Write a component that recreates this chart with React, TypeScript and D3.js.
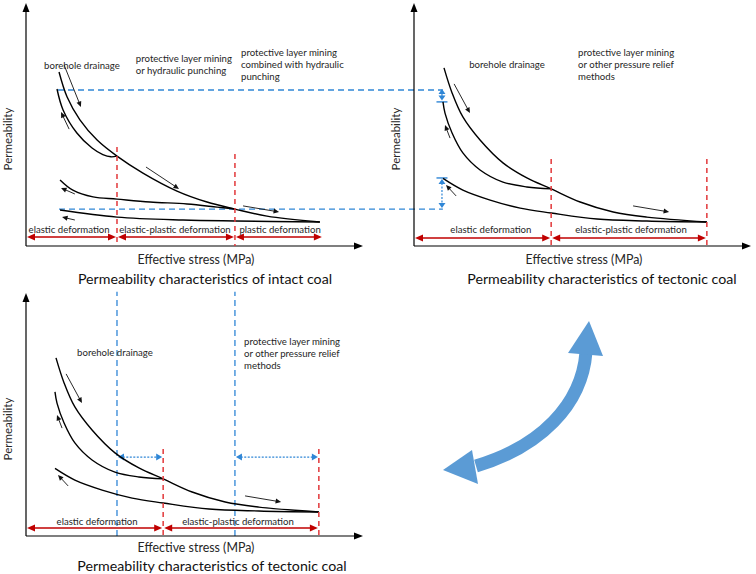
import React from "react";
import * as d3 from "d3";

type P = [number, number];

// ---------- data (normalized stress 0-100, permeability 0-100) ----------
// Intact coal
const intactLoading: P[] = [[9.8, 71.6], [12.2, 61.3], [16.0, 51.9], [21.1, 43.6], [27.0, 37.0], [34.7, 30.0], [44.8, 22.6], [53.7, 18.1], [62.0, 15.2], [71.5, 12.3], [87.2, 9.9]];
const intactUnloading: P[] = [[9.2, 64.6], [11.0, 56.0], [15.1, 46.5], [19.6, 40.3], [22.8, 37.6], [25.2, 36.7], [27.0, 37.0]];
const intactReloading: P[] = [[10.1, 27.2], [13.9, 23.0], [19.9, 20.2], [27.0, 19.3], [36.8, 18.1], [47.8, 17.3], [56.7, 16.0], [62.0, 15.2]];
const intactResidual: P[] = [[10.1, 14.8], [27.0, 11.9], [46.6, 10.7], [62.0, 10.3], [87.2, 9.9]];
const intactBoundaries = [27.0, 62.0];
const intactBoundaryTops = [40.7, 37.9];
const intactZoneEdges = [0, 27.0, 62.0, 88.1];
const intactZoneLabels = ["elastic deformation", "elastic-plastic deformation", "plastic deformation"];
const intactZoneLabelX = [12.8, 44.2, 75.4];
const intactBlueLevels = [64.2, 15.2];
const intactBlueStart = [9.5, 9.8];
const blueLevelEnd = 123.7;
const intactDirArrows: [P, P][] = [[[11.3, 74.5], [16.3, 57.2]], [[12.8, 48.1], [10.4, 55.1]], [[35.6, 32.5], [45.4, 23.5]], [[14.5, 21.4], [10.4, 23.9]], [[64.4, 16.5], [75.1, 14.0]], [[14.5, 10.7], [10.7, 11.9]]];

// Tectonic coal
const tectLoading: P[] = [[8.9, 73.3], [11.3, 63.0], [14.5, 53.1], [19.6, 43.6], [26.4, 34.2], [33.5, 28.0], [40.7, 23.5], [49.3, 18.1], [59.1, 14.0], [69.1, 11.9], [86.9, 9.9]];
const tectUnloading: P[] = [[8.6, 59.3], [9.2, 54.7], [11.3, 46.5], [14.5, 38.3], [19.6, 31.3], [26.4, 26.3], [33.5, 24.3], [40.7, 23.5]];
const tectResidual: P[] = [[8.6, 27.8], [14.5, 23.0], [22.6, 18.9], [31.5, 15.6], [40.7, 13.6], [54.3, 11.1], [69.1, 10.3], [86.9, 9.9]];
const tectBoundaries = [40.7, 86.9];
const tectBoundaryTops = [35.8, 35.8];
const tectZoneEdges = [0, 40.7, 86.9];
const tectZoneLabels = ["elastic deformation", "elastic-plastic deformation"];
const tectZoneLabelX = [22.8, 64.4];
const tectDirArrows: [P, P][] = [[[11.9, 66.7], [16.6, 54.7]], [[10.7, 44.4], [9.2, 49.8]], [[12.5, 20.6], [9.5, 25.1]], [[65.0, 16.5], [75.7, 14.0]]];
const gainMarkerX = 8.3;
const gainMarkers = [{ bar: 59.3, from: 59.9, to: 64.6 }, { bar: 28.0, from: 27.6, to: 15.6 }];
const reliefLines = [27.0, 62.0];
const reliefRanges: P[] = [[27.0, 40.7], [62.0, 86.9]];
const reliefLevel = 32.5;

// Text
const titleIntact = "Permeability characteristics of intact coal";
const titleTectonic = "Permeability characteristics of tectonic coal";
const xTitle = "Effective stress (MPa)";
const yTitle = "Permeability";

// ---------- helpers ----------
const FONT = "Lato, 'Open Sans', sans-serif";
const RED_DASH = "#E2383A";
const RED = "#C00000";
const BLUE = "#2F86D6";
const TXT = "#262626";

function headPts(tip: P, from: P, len: number, half: number): string {
  const dx = tip[0] - from[0];
  const dy = tip[1] - from[1];
  const d = Math.hypot(dx, dy) || 1;
  const ux = dx / d, uy = dy / d;
  const bx = tip[0] - ux * len, by = tip[1] - uy * len;
  return `${tip[0]},${tip[1]} ${bx - uy * half},${by + ux * half} ${bx + uy * half},${by - ux * half}`;
}

function ArrowLine({ a, b, color, width = 1, len = 6, half = 3, both = false, dash }: { a: P; b: P; color: string; width?: number; len?: number; half?: number; both?: boolean; dash?: string }) {
  const dx = b[0] - a[0], dy = b[1] - a[1];
  const d = Math.hypot(dx, dy) || 1;
  const ux = dx / d, uy = dy / d;
  const a2: P = both ? [a[0] + ux * len * 0.8, a[1] + uy * len * 0.8] : a;
  const b2: P = [b[0] - ux * len * 0.8, b[1] - uy * len * 0.8];
  return (
    <g>
      <line x1={a2[0]} y1={a2[1]} x2={b2[0]} y2={b2[1]} stroke={color} strokeWidth={width} strokeDasharray={dash} />
      <polygon points={headPts(b, a, len, half)} fill={color} />
      {both && <polygon points={headPts(a, b, len, half)} fill={color} />}
    </g>
  );
}

type PanelProps = {
  ox: number; oy: number;
  curves: P[][];
  boundaries: number[]; boundaryTops: number[];
  zoneEdges: number[]; zoneLabels: string[]; zoneLabelX: number[];
  zoneArrowY: number; zoneLabelY: number;
  dirArrows: [P, P][];
  title: string; titleDx: number; titleDy: number; xTitleDy: number;
  notes: { lines: string[]; x: number; y: number; anchor: "start" | "middle" }[];
  children?: (x: d3.ScaleLinear<number, number>, y: d3.ScaleLinear<number, number>) => React.ReactNode;
};

function Panel(p: PanelProps) {
  const x = d3.scaleLinear().domain([0, 100]).range([p.ox, p.ox + 337]);
  const y = d3.scaleLinear().domain([0, 100]).range([p.oy, p.oy - 243]);
  const line = d3.line<P>().x(d => x(d[0])).y(d => y(d[1])).curve(d3.curveCatmullRom.alpha(0.5));
  return (
    <g>
      {p.children && p.children(x, y)}
      {/* axes */}
      <ArrowLine a={[x(0), y(0)]} b={[x(0), y(100)]} color="#000" width={1.2} len={9} half={3.5} />
      <ArrowLine a={[x(0), y(0)]} b={[x(100), y(0)]} color="#000" width={1.2} len={9} half={3.5} />
      {/* curves */}
      {p.curves.map((c, i) => (
        <path key={i} d={line(c) || ""} fill="none" stroke="#000" strokeWidth={1.4} />
      ))}
      {/* boundaries */}
      {p.boundaries.map((b, i) => (
        <line key={i} x1={x(b)} x2={x(b)} y1={y(p.boundaryTops[i])} y2={y(0)} stroke={RED_DASH} strokeWidth={1.5} strokeDasharray="5,4" />
      ))}
      {/* zone arrows */}
      {p.zoneLabels.map((lab, i) => (
        <g key={i}>
          <ArrowLine a={[x(p.zoneEdges[i]) + 1, y(p.zoneArrowY)]} b={[x(p.zoneEdges[i + 1]) - 1, y(p.zoneArrowY)]} color={RED} width={1.6} len={8} half={3.5} both />
          <text x={x(p.zoneLabelX[i])} y={y(p.zoneLabelY)} dy="0.35em" textAnchor="middle" fontSize={9.6} fontFamily={FONT} fill={TXT}>{lab}</text>
        </g>
      ))}
      {/* direction arrows */}
      {p.dirArrows.map((a, i) => (
        <ArrowLine key={i} a={[x(a[0][0]), y(a[0][1])]} b={[x(a[1][0]), y(a[1][1])]} color="#111" width={0.9} len={5.5} half={2.5} />
      ))}
      {/* notes */}
      {p.notes.map((n, i) => (
        <text key={i} x={x(n.x)} y={y(n.y)} textAnchor={n.anchor} fontSize={9.6} fontFamily={FONT} fill={TXT}>
          {n.lines.map((l, j) => (
            <tspan key={j} x={x(n.x)} dy={j === 0 ? "0.35em" : 12}>{l}</tspan>
          ))}
        </text>
      ))}
      {/* axis titles */}
      <text transform={`translate(${p.ox - 18},${p.oy - 107}) rotate(-90)`} textAnchor="middle" dy="0.35em" fontSize={11.5} fontFamily={FONT} fill={TXT}>{yTitle}</text>
      <text x={p.ox + 170} y={p.oy + p.xTitleDy} dy="0.35em" textAnchor="middle" fontSize={12.4} fontFamily={FONT} fill={TXT}>{xTitle}</text>
      <text x={p.ox + p.titleDx} y={p.oy + p.titleDy} dy="0.35em" textAnchor="middle" fontSize={14.2} fontFamily={FONT} fill="#111">{p.title}</text>
    </g>
  );
}

export default function App() {
  const big = d3.path();
  big.moveTo(586, 352);
  big.bezierCurveTo(582, 405, 540, 447, 476, 466);
  return (
    <svg width={756} height={574} style={{ position: "absolute", left: 0, top: 0, background: "#fff" }}>
      <rect width={756} height={574} fill="#fff" />
      {/* Panel 1: intact coal */}
      <Panel ox={26} oy={246}
        curves={[intactLoading, intactUnloading, intactReloading, intactResidual]}
        boundaries={intactBoundaries} boundaryTops={intactBoundaryTops}
        zoneEdges={intactZoneEdges} zoneLabels={intactZoneLabels} zoneLabelX={intactZoneLabelX}
        zoneArrowY={3.7} zoneLabelY={6.6}
        dirArrows={intactDirArrows}
        title={titleIntact} titleDx={179} titleDy={33} xTitleDy={14}
        notes={[
          { lines: ["borehole drainage"], x: 16.6, y: 74.1, anchor: "middle" },
          { lines: ["protective layer mining", "or hydraulic punching"], x: 32.6, y: 77.0, anchor: "start" },
          { lines: ["protective layer mining", "combined with hydraulic", "punching"], x: 63.8, y: 79.4, anchor: "start" },
        ]}
      >
        {(x, y) => intactBlueLevels.map((lv, i) => (
          <line key={i} x1={x(intactBlueStart[i])} x2={x(blueLevelEnd)} y1={y(lv)} y2={y(lv)} stroke={BLUE} strokeWidth={1.3} strokeDasharray="6,4" />
        ))}
      </Panel>

      {/* Panel 2: tectonic coal (top right) */}
      <Panel ox={414} oy={246}
        curves={[tectLoading, tectUnloading, tectResidual]}
        boundaries={tectBoundaries} boundaryTops={tectBoundaryTops}
        zoneEdges={tectZoneEdges} zoneLabels={tectZoneLabels} zoneLabelX={tectZoneLabelX}
        zoneArrowY={3.3} zoneLabelY={6.6}
        dirArrows={tectDirArrows}
        title={titleTectonic} titleDx={188} titleDy={33} xTitleDy={14}
        notes={[
          { lines: ["borehole drainage"], x: 27.6, y: 74.5, anchor: "middle" },
          { lines: ["protective layer mining", "or other pressure relief", "methods"], x: 48.7, y: 79.4, anchor: "start" },
        ]}
      >
        {(x, y) => gainMarkers.map((g, i) => (
          <g key={i}>
            <line x1={x(gainMarkerX) - 5.5} x2={x(gainMarkerX) + 5.5} y1={y(g.bar)} y2={y(g.bar)} stroke={BLUE} strokeWidth={1.4} />
            <ArrowLine a={[x(gainMarkerX), y(g.from)]} b={[x(gainMarkerX), y(g.to)]} color={BLUE} width={1.2} len={5} half={3.5} both dash={i === 1 ? "2,1.5" : undefined} />
          </g>
        ))}
      </Panel>

      {/* Panel 3: tectonic coal (bottom left) */}
      <Panel ox={26} oy={536}
        curves={[tectLoading, tectUnloading, tectResidual]}
        boundaries={tectBoundaries} boundaryTops={tectBoundaryTops}
        zoneEdges={tectZoneEdges} zoneLabels={tectZoneLabels} zoneLabelX={[21.1, 62.9]}
        zoneArrowY={3.3} zoneLabelY={5.8}
        dirArrows={tectDirArrows}
        title={titleTectonic} titleDx={186} titleDy={30} xTitleDy={12}
        notes={[
          { lines: ["borehole drainage"], x: 26.4, y: 75.3, anchor: "middle" },
          { lines: ["protective layer mining", "or other pressure relief", "methods"], x: 64.7, y: 79.8, anchor: "start" },
        ]}
      >
        {(x, y) => (
          <g>
            {reliefLines.map((v, i) => (
              <line key={i} x1={x(v)} x2={x(v)} y1={y(0)} y2={y(100.5)} stroke={BLUE} strokeWidth={1.3} strokeDasharray="6,4" />
            ))}
            {reliefRanges.map((r, i) => (
              <ArrowLine key={i} a={[x(r[0]) + 1, y(reliefLevel)]} b={[x(r[1]) - 1, y(reliefLevel)]} color={BLUE} width={1.3} len={6} half={3.5} both dash="2,1.5" />
            ))}
          </g>
        )}
      </Panel>

      {/* Big curved double arrow */}
      <path d={big.toString()} fill="none" stroke="#5B9BD5" strokeWidth={13} />
      <polygon points="589,321 568,353 603,356" fill="#5B9BD5" />
      <polygon points="443,470 472,450 478,484" fill="#5B9BD5" />
    </svg>
  );
}
